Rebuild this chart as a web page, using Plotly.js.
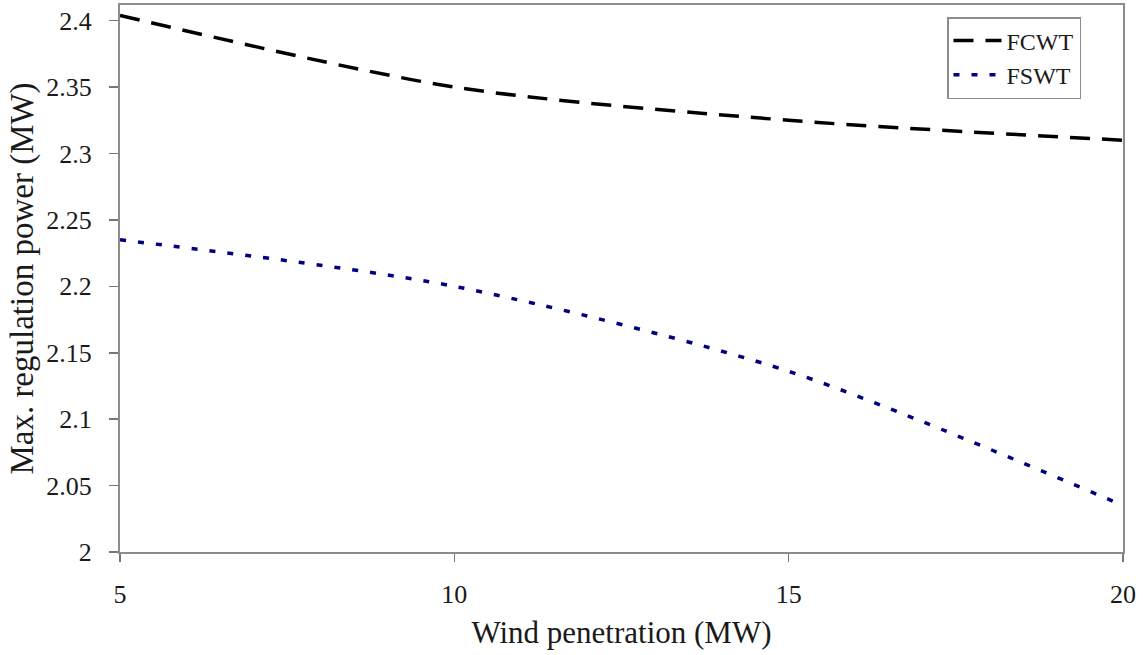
<!DOCTYPE html>
<html>
<head>
<meta charset="utf-8">
<script src="https://cdn.plot.ly/plotly-3.0.1.min.js"></script>
<style>
  html, body { margin: 0; padding: 0; background: #fff; }
  #chart { width: 1143px; height: 655px; }
</style>
</head>
<body>
<div id="chart"></div>
<script>
// Wind penetration levels (MW)
const windPenetration = [5, 10, 15, 20];
// Maximum regulation power (MW) for each turbine type
const fcwtPower = [2.404, 2.35, 2.325, 2.31];
const fswtPower = [2.235, 2.2, 2.136, 2.035];

const yTickVals = [2, 2.05, 2.1, 2.15, 2.2, 2.25, 2.3, 2.35, 2.4];
const yTickText = ['2', '2.05', '2.1', '2.15', '2.2', '2.25', '2.3', '2.35', '2.4'];
const xTickVals = [5, 10, 15, 20];
const xTickText = ['5', '10', '15', '20'];

const serif = "'Liberation Serif', 'Times New Roman', serif";
const ink = '#1a1a1a';

const traces = [
  {
    x: windPenetration, y: fcwtPower, name: 'FCWT',
    type: 'scatter', mode: 'lines',
    line: { color: '#000000', width: 3.5, dash: '20px,12px', shape: 'spline', smoothing: 0.8 }
  },
  {
    x: windPenetration, y: fswtPower, name: 'FSWT',
    type: 'scatter', mode: 'lines',
    line: { color: '#000080', width: 3.5, dash: '6px,12px', shape: 'spline', smoothing: 0.8 }
  }
];

// plot area in pixels
const margin = { l: 120, r: 20, t: 5, b: 103 };
const plotW = 1143 - margin.l - margin.r, plotH = 655 - margin.t - margin.b;

const layout = {
  width: 1143, height: 655,
  margin: margin,
  paper_bgcolor: '#ffffff', plot_bgcolor: '#ffffff',
  font: { family: serif, color: ink, size: 24 },
  showlegend: true,
  legend: {
    x: (947 - margin.l) / plotW, y: 1 - (17 - margin.t) / plotH,
    xanchor: 'left', yanchor: 'top',
    bgcolor: '#ffffff', bordercolor: '#8c8c8c', borderwidth: 1.5,
    font: { family: serif, size: 24, color: ink },
    itemwidth: 48,
    tracegroupgap: 0
  },
  xaxis: {
    range: [5, 20],
    tickmode: 'array', tickvals: xTickVals, ticktext: xTickText,
    ticks: 'outside', ticklen: 8, tickwidth: 1.5, tickcolor: '#777',
    ticklabelstandoff: 10,
    showline: true, linecolor: '#8c8c8c', linewidth: 2, mirror: true,
    showgrid: false, zeroline: false,
    tickfont: { family: serif, size: 26, color: ink },
    title: { text: 'Wind penetration (MW)', font: { family: serif, size: 31, color: ink }, standoff: 13 }
  },
  yaxis: {
    range: [2, 2.4118],
    tickmode: 'array', tickvals: yTickVals, ticktext: yTickText,
    ticks: 'outside', ticklen: 9, tickwidth: 1.5, tickcolor: '#777',
    ticklabelstandoff: 12,
    showline: true, linecolor: '#8c8c8c', linewidth: 2, mirror: true,
    showgrid: false, zeroline: false,
    tickfont: { family: serif, size: 26, color: ink },
    title: { text: 'Max. regulation power (MW)', font: { family: serif, size: 33, color: ink }, standoff: 3 }
  }
};

Plotly.newPlot('chart', traces, layout, { displayModeBar: false, staticPlot: true });
</script>
</body>
</html>
